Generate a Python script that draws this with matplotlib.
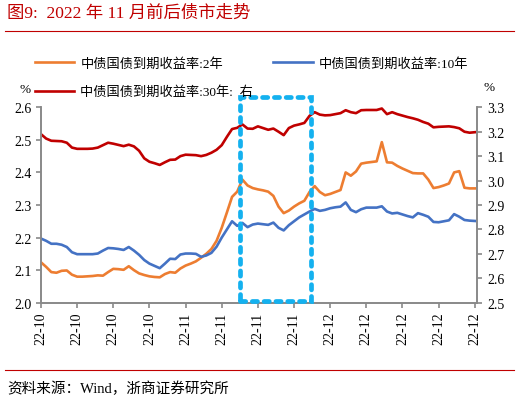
import numpy as np
import pandas as pd
import matplotlib
matplotlib.use('Agg')
import matplotlib.pyplot as plt
import matplotlib.dates as mdates
from matplotlib.patches import Rectangle
from matplotlib.lines import Line2D
from datetime import datetime, timedelta

plt.rcParams['font.family'] = ['Liberation Serif', 'Noto Sans CJK SC']

# daily values, 2022-10-08 .. 2022-12-31
dates = pd.date_range('2022-10-08', periods=85, freq='D').to_pydatetime()

y2 = [2.124, 2.110, 2.094, 2.092, 2.098, 2.099, 2.086, 2.080, 2.080, 2.081,
      2.082, 2.084, 2.083, 2.094, 2.104, 2.103, 2.101, 2.112, 2.100, 2.090,
      2.085, 2.081, 2.079, 2.078, 2.088, 2.094, 2.092, 2.105, 2.114, 2.120,
      2.127, 2.138, 2.150, 2.165, 2.190, 2.230, 2.277, 2.325, 2.341, 2.378,
      2.360, 2.352, 2.348, 2.345, 2.341, 2.328, 2.295, 2.275, 2.283, 2.295,
      2.305, 2.313, 2.340, 2.358, 2.340, 2.330, 2.334, 2.340, 2.346, 2.400,
      2.390, 2.403, 2.427, 2.430, 2.432, 2.434, 2.493, 2.431, 2.430, 2.420,
      2.412, 2.405, 2.398, 2.397, 2.397, 2.378, 2.352, 2.355, 2.360, 2.366,
      2.400, 2.404, 2.353, 2.351, 2.351]

y10 = [2.197, 2.190, 2.181, 2.181, 2.178, 2.171, 2.155, 2.149, 2.149, 2.149,
       2.149, 2.151, 2.160, 2.168, 2.167, 2.165, 2.162, 2.171, 2.160, 2.147,
       2.131, 2.120, 2.113, 2.106, 2.120, 2.135, 2.134, 2.148, 2.151, 2.151,
       2.150, 2.141, 2.145, 2.153, 2.172, 2.200, 2.225, 2.250, 2.236, 2.245,
       2.232, 2.240, 2.243, 2.241, 2.239, 2.246, 2.230, 2.222, 2.238, 2.250,
       2.262, 2.271, 2.280, 2.288, 2.282, 2.285, 2.290, 2.293, 2.295, 2.308,
       2.285, 2.278, 2.287, 2.292, 2.292, 2.292, 2.296, 2.280, 2.274, 2.276,
       2.271, 2.266, 2.262, 2.275, 2.270, 2.264, 2.248, 2.247, 2.250, 2.253,
       2.272, 2.264, 2.254, 2.252, 2.251]

y30 = [3.190, 3.172, 3.163, 3.162, 3.161, 3.155, 3.135, 3.130, 3.130, 3.130,
       3.131, 3.135, 3.145, 3.155, 3.151, 3.146, 3.141, 3.147, 3.140, 3.122,
       3.091, 3.077, 3.071, 3.064, 3.075, 3.085, 3.086, 3.100, 3.106, 3.105,
       3.104, 3.100, 3.105, 3.114, 3.126, 3.145, 3.179, 3.211, 3.216, 3.230,
       3.213, 3.212, 3.222, 3.215, 3.208, 3.213, 3.200, 3.186, 3.215, 3.225,
       3.230, 3.236, 3.265, 3.280, 3.270, 3.267, 3.268, 3.272, 3.276, 3.288,
       3.280, 3.276, 3.288, 3.289, 3.289, 3.289, 3.295, 3.272, 3.280, 3.272,
       3.266, 3.260, 3.255, 3.249, 3.240, 3.233, 3.218, 3.220, 3.221, 3.222,
       3.219, 3.214, 3.200, 3.196, 3.198]

names = ['中债国债到期收益率:2年', '中债国债到期收益率:10年', '中债国债到期收益率:30年:  右']

# highlighted period (dashed box)
hl_start = datetime(2022, 11, 15, 14)
hl_end = datetime(2022, 11, 29, 7)

red = '#C00000'
grey = '#898989'

fig = plt.figure(figsize=(5.2, 4.02), dpi=100)
ax = fig.add_axes([0.0788, 0.2445, 0.8392, 0.4861])
ax2 = ax.twinx()

l2, = ax.plot(dates, y2, color='#ED7D31', lw=1.9, solid_joinstyle='round')
l10, = ax.plot(dates, y10, color='#4472C4', lw=1.9, solid_joinstyle='round')
l30, = ax2.plot(dates, y30, color=red, lw=1.9, solid_joinstyle='round')

ax.set_ylim(2.0, 2.6)
ax2.set_ylim(2.5, 3.3)
ax.set_yticks(np.arange(2.0, 2.61, 0.1))
ax2.set_yticks(np.arange(2.5, 3.31, 0.1))
ax.yaxis.set_major_formatter(plt.FormatStrFormatter('%.1f'))
ax2.yaxis.set_major_formatter(plt.FormatStrFormatter('%.1f'))

ax.set_xlim(dates[0], dates[0] + timedelta(days=84.5))
ticks = pd.date_range('2022-10-08', periods=13, freq='7D').to_pydatetime()
ax.set_xticks(ticks)
ax.set_xticklabels([t.strftime('%y-%m') for t in ticks], rotation=90)

for a in (ax, ax2):
    a.spines['top'].set_visible(False)
    for s in ('left', 'right', 'bottom'):
        a.spines[s].set_color(grey)
        a.spines[s].set_linewidth(1.2)
    a.tick_params(axis='both', colors=grey, labelcolor='black', labelsize=10,
                  length=3.5, width=1.2, direction='out')
ax.tick_params(axis='x', pad=3)

x0 = mdates.date2num(hl_start)
x1 = mdates.date2num(hl_end)
box = Rectangle((x0, 2.006), x1 - x0, 0.625, fill=False, edgecolor='#14B1EF',
                lw=3.4, linestyle=(0, (1.1, 1.4)), clip_on=False, zorder=5)
box.set_capstyle('round')
ax.add_patch(box)
ax.set_zorder(ax2.get_zorder() + 1)
ax.patch.set_visible(False)

fig.legend(handles=[l2, l30, l10], labels=[names[0], names[2], names[1]],
           ncol=2, loc='upper left', bbox_to_anchor=(0.067, 0.856),
           frameon=False, prop={'size': 9.5}, handlelength=3.0,
           handletextpad=0.45, columnspacing=1.5, labelspacing=1.2,
           borderpad=0, borderaxespad=0)

fig.text(25 / 520, 1 - 90 / 402, '%', ha='center', va='center', fontsize=9.5)
fig.text(489 / 520, 1 - 88 / 402, '%', ha='center', va='center', fontsize=9.5)

fig.text(7 / 520, 1 - 14 / 402, '图9:  2022 年 11 月前后债市走势', color=red,
         fontsize=12.5, va='center', ha='left')
fig.add_artist(Line2D([5 / 520, 514 / 520], [1 - 31.7 / 402] * 2, color=red, lw=0.8))
fig.add_artist(Line2D([5 / 520, 514 / 520], [1 - 370.7 / 402] * 2, color=red, lw=0.8))
fig.text(7 / 520, 1 - 389 / 402, '资料来源：Wind，浙商证券研究所', fontsize=10.5,
         va='center', ha='left')

fig.savefig('out.png', dpi=100)
